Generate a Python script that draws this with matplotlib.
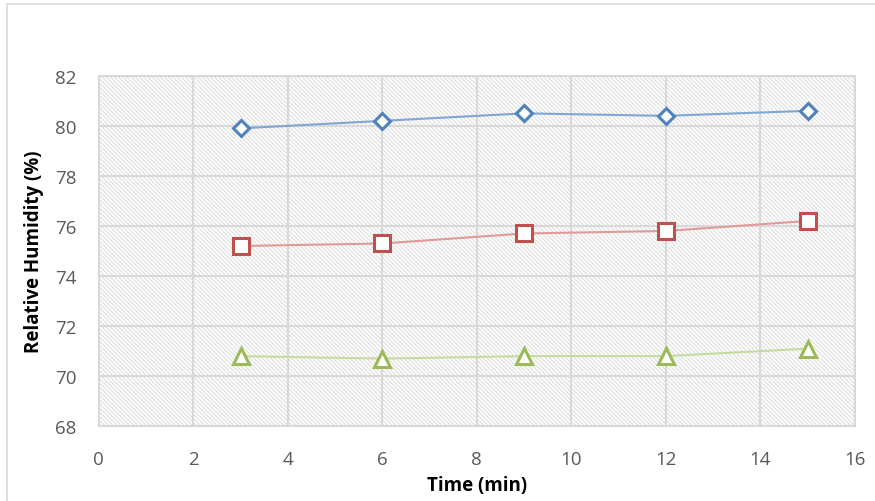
import matplotlib
matplotlib.use("Agg")
import matplotlib.pyplot as plt
from matplotlib.patches import Rectangle

time_min = [3, 6, 9, 12, 15]
rh_blue = [79.9, 80.2, 80.5, 80.4, 80.6]
rh_red = [75.2, 75.3, 75.7, 75.8, 76.2]
rh_green = [70.8, 70.7, 70.8, 70.8, 71.1]

x_ticks = [0, 2, 4, 6, 8, 10, 12, 14, 16]
y_ticks = [68, 70, 72, 74, 76, 78, 80, 82]

plt.rcParams['font.family'] = ['Open Sans', 'DejaVu Sans']
plt.rcParams['hatch.color'] = '#e2e2e2'
plt.rcParams['hatch.linewidth'] = 0.9

fig = plt.figure(figsize=(8.75, 5.02), dpi=100)
ax = fig.add_axes([0.113, 0.149, 0.864, 0.698])

# chart border
fig.patches.append(Rectangle((7/875, -0.05), 1.2, 1.05 - 5/502, transform=fig.transFigure,
                             fill=False, edgecolor='#d9d9d9', linewidth=1.2))

ax.add_patch(Rectangle((0, 0), 1, 1, transform=ax.transAxes, facecolor='white',
                       hatch='\\' * 8, edgecolor='#e2e2e2', linewidth=0, zorder=0))

ax.plot(time_min, rh_blue, color='#7ea6d6', lw=1.5, marker='D', ms=8,
        mfc='white', mec='#4f81bd', mew=2.2, zorder=3)
ax.plot(time_min, rh_red, color='#e09a9a', lw=1.5, marker='s', ms=11,
        mfc='white', mec='#c0504d', mew=2.2, zorder=3)
ax.plot(time_min, rh_green, color='#c5dba0', lw=1.5, marker='^', ms=11,
        mfc='white', mec='#9bbb59', mew=2.2, zorder=3)

ax.set_xlim(0, 16)
ax.set_ylim(68, 82)
ax.set_xticks(x_ticks)
ax.set_yticks(y_ticks)
ax.grid(True, color='#d9d9d9', lw=1.5)
ax.set_axisbelow(True)
for s in ax.spines.values():
    s.set_color('#d9d9d9')
    s.set_linewidth(1.5)
ax.tick_params(length=0, labelsize=13.5, colors='#595959')
ax.tick_params(axis='x', pad=17)
ax.tick_params(axis='y', pad=16)
ax.set_xlabel('Time (min)', fontsize=13.5, fontweight='bold', labelpad=5)
ax.set_ylabel('Relative Humidity (%)', fontsize=13.5, fontweight='bold', labelpad=8)

fig.savefig('out.png', dpi=100)
